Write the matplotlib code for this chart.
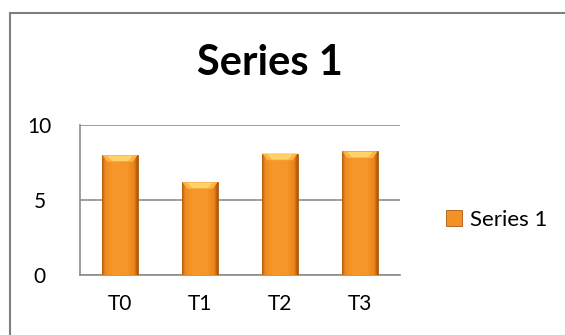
import numpy as np
import matplotlib
matplotlib.use("Agg")
import matplotlib.pyplot as plt
from matplotlib.patches import Polygon, Patch
from matplotlib.lines import Line2D

plt.rcParams['font.family'] = ['Lato', 'DejaVu Sans']

categories = ['T0', 'T1', 'T2', 'T3']
values = [8.0, 6.2, 8.1, 8.25]
series_name = 'Series 1'

W, H = 565, 335
fig = plt.figure(figsize=(W / 100, H / 100), dpi=100)

# outer chart frame (only top and left edges are visible)
fig.add_artist(Line2D([10 / W, 1], [1 - 13 / H, 1 - 13 / H], color='#7f7f7f', lw=1.5))
fig.add_artist(Line2D([10 / W, 10 / W], [0, 1 - 13 / H], color='#7f7f7f', lw=1.5))

ax = fig.add_axes([80 / W, 60 / H, 320 / W, 150 / H])
x = np.arange(len(categories))
bw = 0.44
bars = ax.bar(x, values, width=bw, color='#F39325', edgecolor='#a85a12', linewidth=0.6, zorder=3)

# horizontal shading on each bar
grad = np.linspace(0, 1, 64)[None, :]
cmap = matplotlib.colors.LinearSegmentedColormap.from_list(
    'o', [(0, '#b8600f'), (0.08, '#ee8a1e'), (0.3, '#f7982c'),
          (0.7, '#f6952a'), (0.9, '#ea851b'), (1, '#a9560d')])
for b, v in zip(bars, values):
    x0 = b.get_x()
    im = ax.imshow(grad, cmap=cmap, aspect='auto',
                   extent=[x0, x0 + bw, 0, v], zorder=3.5)
    im.set_clip_path(b)
    # top bevel
    dx, dy = 0.06, 0.45
    bev = Polygon([[x0, v], [x0 + bw, v], [x0 + bw - dx, v - dy], [x0 + dx, v - dy]],
                  closed=True, facecolor='#FBB445', edgecolor='none', zorder=4)
    ax.add_patch(bev)
    hl = Polygon([[x0 + dx, v - 0.05], [x0 + bw - dx, v - 0.05],
                  [x0 + bw - 2 * dx, v - dy + 0.05], [x0 + 2 * dx, v - dy + 0.05]],
                 closed=True, facecolor='#FFD36A', edgecolor='none', zorder=4.1)
    ax.add_patch(hl)

ax.set_xlim(-0.5, len(categories) - 0.5)
ax.set_ylim(0, 10)
ax.set_yticks([0, 5, 10])
ax.set_xticks(x)
ax.set_xticklabels(categories)
ax.yaxis.grid(True, color='#8c8c8c', lw=1.2, zorder=0)
ax.set_axisbelow(True)
for s in ['top', 'right']:
    ax.spines[s].set_visible(False)
for s in ['left', 'bottom']:
    ax.spines[s].set_color('#8c8c8c')
    ax.spines[s].set_linewidth(1.2)
ax.tick_params(length=0, labelsize=15, colors='black')
ax.tick_params(axis='y', pad=29)
ax.tick_params(axis='x', pad=14)
for lbl in ax.get_yticklabels():
    lbl.set_horizontalalignment('center')

fig.text(270 / W, 1 - 63 / H, series_name, ha='center', va='center',
         fontsize=30, fontweight='bold')

handle = Patch(facecolor='#F39325', edgecolor='#a85a12', linewidth=0.6)
fig.legend([handle], [series_name], loc='center left', bbox_to_anchor=(426 / W, 1 - 220 / H),
           frameon=False, fontsize=16, handlelength=0.7, handleheight=0.7, handletextpad=0.4)

fig.savefig('out.png', dpi=100, facecolor='white')
